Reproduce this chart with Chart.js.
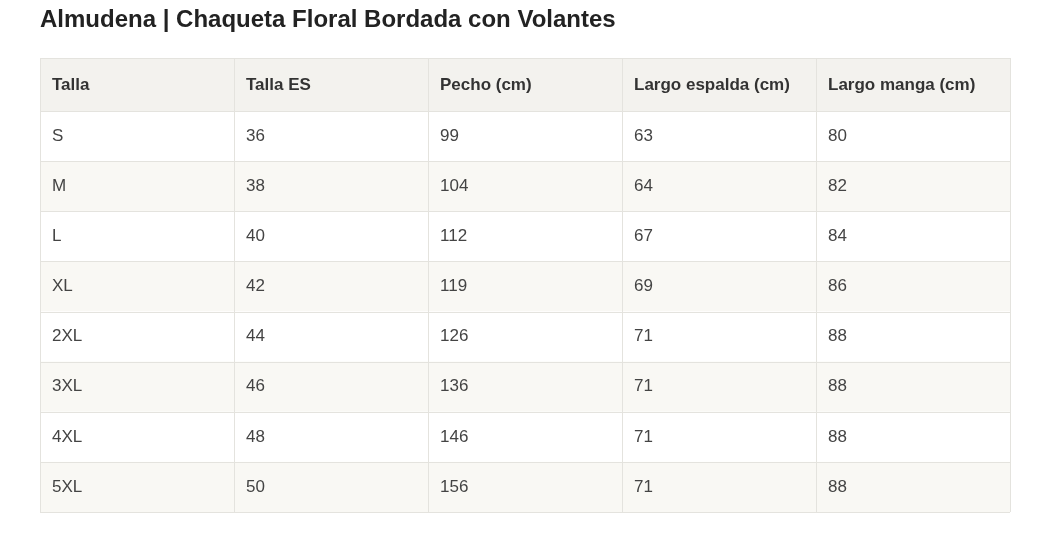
<!DOCTYPE html>
<html><head><meta charset="utf-8">
<script src="https://cdn.jsdelivr.net/npm/chart.js@4"></script>
<style>
html,body{margin:0;padding:0;background:#fff;width:1050px;height:552px;overflow:hidden;font-family:"Liberation Sans",Arial,sans-serif}
#t{position:absolute;left:40px;top:5px;font-size:24px;font-weight:bold;color:#222;margin:0}
#w{position:absolute;left:0;top:0;width:1050px;height:552px}
</style></head><body>
<div id="w"><canvas id="c"></canvas></div>
<h1 id="t">Almudena | Chaqueta Floral Bordada con Volantes</h1>
<script>
const headers = ["Talla","Talla ES","Pecho (cm)","Largo espalda (cm)","Largo manga (cm)"];
const sizes = ["S","M","L","XL","2XL","3XL","4XL","5XL"];
const tallaES = [36,38,40,42,44,46,48,50];
const pecho = [99,104,112,119,126,136,146,156];
const espalda = [63,64,67,69,71,71,71,71];
const manga = [80,82,84,86,88,88,88,88];

const columns = [sizes, tallaES, pecho, espalda, manga];
const HEADER_H = 53, ROW_H = 50;
const total = HEADER_H + ROW_H * sizes.length;
const rowTop = i => i < 0 ? 0 : HEADER_H + ROW_H * i;

const tablePlugin = {
  id: 'table',
  beforeDatasetsDraw(chart) {
    const ctx = chart.ctx, x = chart.scales.x, y = chart.scales.y;
    const L = x.getPixelForValue(0), R = x.getPixelForValue(headers.length);
    ctx.save();
    ctx.fillStyle = '#f3f2ee';
    ctx.fillRect(L, y.getPixelForValue(0), R - L, y.getPixelForValue(HEADER_H) - y.getPixelForValue(0));
    for (let i = 0; i < sizes.length; i++) {
      const t = y.getPixelForValue(rowTop(i)), b = y.getPixelForValue(rowTop(i) + ROW_H);
      ctx.fillStyle = i % 2 ? '#f9f8f4' : '#ffffff';
      ctx.fillRect(L, t, R - L, b - t);
    }
    ctx.strokeStyle = '#e4e3de';
    ctx.lineWidth = 1;
    ctx.beginPath();
    for (let i = -1; i <= sizes.length; i++) {
      const py = Math.round(y.getPixelForValue(i < 0 ? 0 : rowTop(i))) + 0.5;
      ctx.moveTo(L, py); ctx.lineTo(R, py);
    }
    for (let j = 0; j <= headers.length; j++) {
      const px = Math.round(x.getPixelForValue(j)) + 0.5;
      ctx.moveTo(px, y.getPixelForValue(0)); ctx.lineTo(px, y.getPixelForValue(total));
    }
    ctx.stroke();
    ctx.textBaseline = 'middle';
    ctx.fillStyle = '#333';
    ctx.font = 'bold 17px "Liberation Sans", Arial, sans-serif';
    headers.forEach((h, j) => ctx.fillText(h, x.getPixelForValue(j) + 12, y.getPixelForValue(HEADER_H / 2) + 1));
    ctx.font = '17px "Liberation Sans", Arial, sans-serif';
    ctx.fillStyle = '#444';
    columns.forEach((col, j) => col.forEach((v, i) =>
      ctx.fillText(String(v), x.getPixelForValue(j) + 12, y.getPixelForValue(rowTop(i) + ROW_H / 2))));
    ctx.restore();
  }
};

new Chart(document.getElementById('c'), {
  type: 'scatter',
  data: { datasets: [{ data: [] }] },
  options: {
    responsive: true, maintainAspectRatio: false, animation: false,
    layout: { padding: { left: 40, right: 40, top: 58, bottom: 40 } },
    plugins: { legend: { display: false }, tooltip: { enabled: false } },
    scales: {
      x: { type: 'linear', min: 0, max: headers.length, display: false },
      y: { type: 'linear', min: 0, max: total, reverse: true, display: false }
    }
  },
  plugins: [tablePlugin]
});
</script>
</body></html>
